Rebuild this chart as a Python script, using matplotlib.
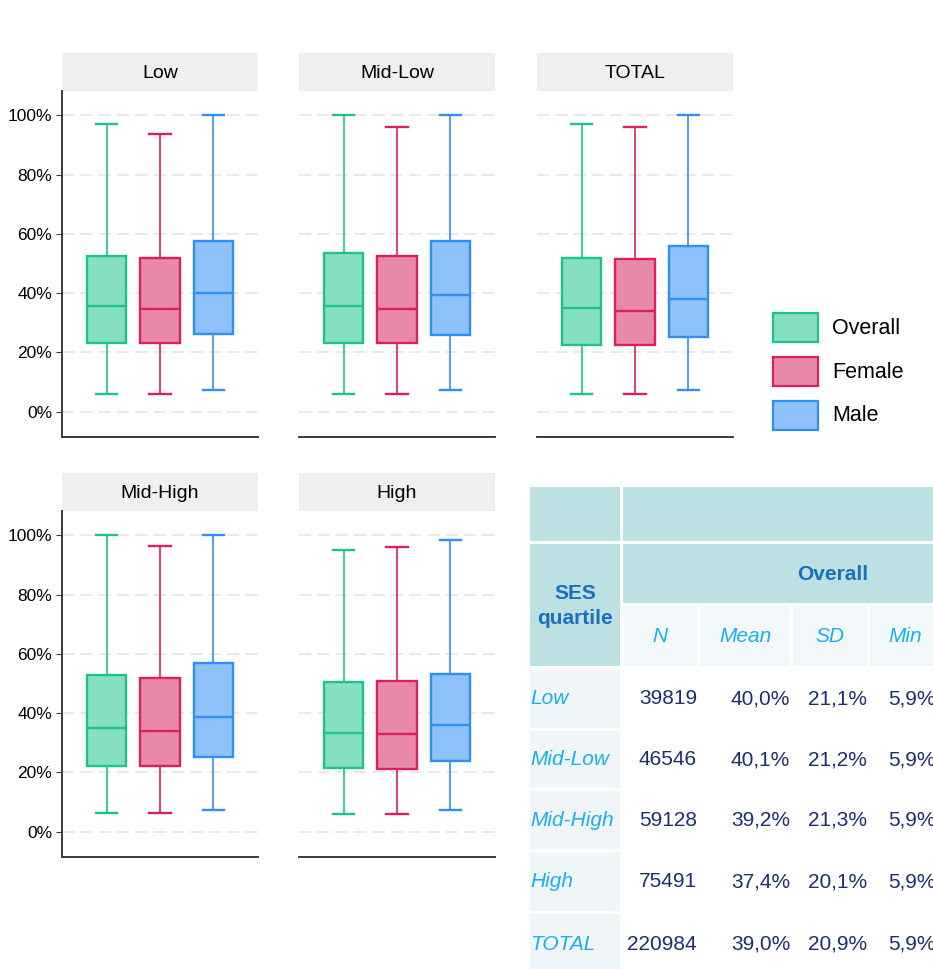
import matplotlib
matplotlib.use('Agg')
import matplotlib.pyplot as plt
from matplotlib.patches import Rectangle

# box statistics (in %); order inside each row: Overall, Female, Male
panels = ['Low', 'Mid-Low', 'TOTAL', 'Mid-High', 'High']
groups = ['Overall', 'Female', 'Male']
whisker_low = [[5.8, 5.8, 7.2], [5.8, 5.8, 7.2], [5.8, 5.8, 7.2], [6.1, 6.1, 7.4], [6.0, 6.0, 7.3]]
q1 = [[23.2, 23.2, 26.2], [23.1, 23.1, 25.8], [22.4, 22.4, 25.1], [22.0, 22.0, 25.0], [21.4, 21.2, 23.8]]
median = [[35.6, 34.6, 39.9], [35.6, 34.6, 39.3], [34.9, 33.9, 37.9], [34.8, 34.1, 38.5], [33.2, 32.8, 35.8]]
q3 = [[52.5, 51.8, 57.5], [53.5, 52.5, 57.5], [51.8, 51.5, 55.8], [52.7, 51.7, 56.8], [50.4, 50.8, 53.3]]
whisker_high = [[97.1, 93.8, 100.0], [100.0, 96.1, 100.0], [97.1, 96.1, 100.0], [100.0, 96.3, 100.0], [94.9, 96.1, 98.3]]
y_ticks = [0, 20, 40, 60, 80, 100]

# summary table
ses_labels = ['Low', 'Mid-Low', 'Mid-High', 'High', 'TOTAL']
n_obs = [39819, 46546, 59128, 75491, 220984]
mean_pct = [40.0, 40.1, 39.2, 37.4, 39.0]
sd_pct = [21.1, 21.2, 21.3, 20.1, 20.9]
min_pct = [5.9, 5.9, 5.9, 5.9, 5.9]
stat_headers = ['N', 'Mean', 'SD', 'Min']

edge = {'Overall': '#1ec38b', 'Female': '#dc1f62', 'Male': '#2f8ff9'}
fill = {'Overall': '#84e0c0', 'Female': '#e889a8', 'Male': '#8fc1fb'}

PF = ['Liberation Sans', 'DejaVu Sans']
W, H = 933, 969
fig = plt.figure(figsize=(W / 100, H / 100), dpi=100)


def px_axes(left, top, right, bottom):
    return fig.add_axes([left / W, 1 - bottom / H, (right - left) / W, (bottom - top) / H])


col_left = [62, 299, 537]
panel_w = 196
strip_top = [53, 473]
strip_h = 38
plot_h = 346
slots = [(0, 0), (0, 1), (0, 2), (1, 0), (1, 1)]

for i, name in enumerate(panels):
    r, c = slots[i]
    x0 = col_left[c]
    st = strip_top[r]
    # strip
    sax = px_axes(x0, st, x0 + panel_w, st + strip_h)
    sax.set_facecolor('#efefef')
    sax.set_xticks([]); sax.set_yticks([])
    for s in sax.spines.values():
        s.set_visible(False)
    sax.text(0.5, 0.47, name, ha='center', va='center', fontsize=14, family=PF)

    ax = px_axes(x0, st + strip_h, x0 + panel_w, st + strip_h + plot_h)
    stats = []
    for g in range(3):
        stats.append({'med': median[i][g], 'q1': q1[i][g], 'q3': q3[i][g],
                      'whislo': whisker_low[i][g], 'whishi': whisker_high[i][g],
                      'fliers': [], 'label': groups[g]})
    bp = ax.bxp(stats, positions=[1, 2, 3], widths=0.73, capwidths=0.41,
                patch_artist=True, showfliers=False)
    for g, grp in enumerate(groups):
        bp['boxes'][g].set_facecolor(fill[grp])
        bp['boxes'][g].set_edgecolor(edge[grp])
        bp['boxes'][g].set_linewidth(1.7)
        bp['medians'][g].set_color(edge[grp])
        bp['medians'][g].set_linewidth(1.7)
        for k in (2 * g, 2 * g + 1):
            bp['whiskers'][k].set_color(edge[grp])
            bp['whiskers'][k].set_linewidth(1.2)
            bp['caps'][k].set_color(edge[grp])
            bp['caps'][k].set_linewidth(1.7)

    ax.set_xlim(1 - 0.832, 3 + 0.832)
    ax.set_ylim(-8.6, 108.2)
    ax.set_yticks(y_ticks)
    ax.set_xticks([])
    ax.grid(True, axis='y', color='#e3e3e3', linestyle=(0, (8, 4)), linewidth=1.1)
    ax.set_axisbelow(True)
    ax.set_facecolor('white')
    for s in ['top', 'right']:
        ax.spines[s].set_visible(False)
    ax.spines['bottom'].set_color('#3a3a3a')
    ax.spines['bottom'].set_linewidth(1.4)
    if c == 0:
        ax.spines['left'].set_color('#3a3a3a')
        ax.spines['left'].set_linewidth(1.4)
        ax.set_yticklabels([f'{t}%' for t in y_ticks], family=PF, fontsize=12.5)
        ax.tick_params(axis='y', length=4, color='#3a3a3a', pad=3)
    else:
        ax.spines['left'].set_visible(False)
        ax.tick_params(axis='y', length=0, labelleft=False)

# legend
leg_tops = [313, 357, 401]
for grp, top in zip(groups, leg_tops):
    fig.patches.append(Rectangle((773 / W, 1 - (top + 29) / H), 45 / W, 29 / H,
                                 transform=fig.transFigure, facecolor=fill[grp],
                                 edgecolor=edge[grp], linewidth=1.6))
    fig.text(832 / W, 1 - (top + 15) / H, grp, ha='left', va='center',
             fontsize=15.5, family=PF)

# table drawn on an overlay in pixel units
tab = fig.add_axes([0, 0, 1, 1])
tab.set_xlim(0, W)
tab.set_ylim(H, 0)
tab.axis('off')

head_bg = '#bde0e3'
sub_bg = '#f2f7fa'
lab_bg = '#f0f6f8'
head_txt = '#1a6fc0'
lab_txt = '#1ab0ec'
num_txt = '#1c2f6b'

cols = [(530, 620), (623, 697), (700, 790), (793, 867), (870, 940)]
num_right = [697, 790, 867, 936]
data_rows = [(670, 728), (731, 788), (791, 849), (852, 911), (914, 975)]


def cell(x0, x1, y0, y1, color):
    tab.add_patch(Rectangle((x0, y0), x1 - x0, y1 - y0, facecolor=color, edgecolor='none'))


cell(530, 620, 487, 541, head_bg)
cell(623, 960, 487, 541, head_bg)
cell(530, 620, 544, 666, head_bg)
cell(623, 960, 544, 603, head_bg)
tab.text(575, 606, 'SES\nquartile', ha='center', va='center', fontsize=15,
         fontweight='bold', color=head_txt, family=PF, linespacing=1.35)
tab.text(833, 574, 'Overall', ha='center', va='center', fontsize=15,
         fontweight='bold', color=head_txt, family=PF)
for (x0, x1), hdr in zip(cols[1:], stat_headers):
    cell(x0, x1, 606, 666, sub_bg)
    tab.text((x0 + x1) / 2, 637, hdr, ha='center', va='center', fontsize=15,
             style='italic', color=lab_txt, family=PF)

fmt = lambda v: f'{v:.1f}'.replace('.', ',') + '%'
for j, (y0, y1) in enumerate(data_rows):
    yc = (y0 + y1) / 2 if j < 4 else 944
    cell(530, 620, y0, y1, lab_bg)
    tab.text(530, yc, ses_labels[j], ha='left', va='center', fontsize=15,
             style='italic', color=lab_txt, family=PF)
    vals = [str(n_obs[j]), fmt(mean_pct[j]), fmt(sd_pct[j]), fmt(min_pct[j])]
    for xr, v in zip(num_right, vals):
        tab.text(xr, yc, v, ha='right', va='center', fontsize=15,
                 color=num_txt, family=PF)

fig.savefig('out.png', dpi=100)
